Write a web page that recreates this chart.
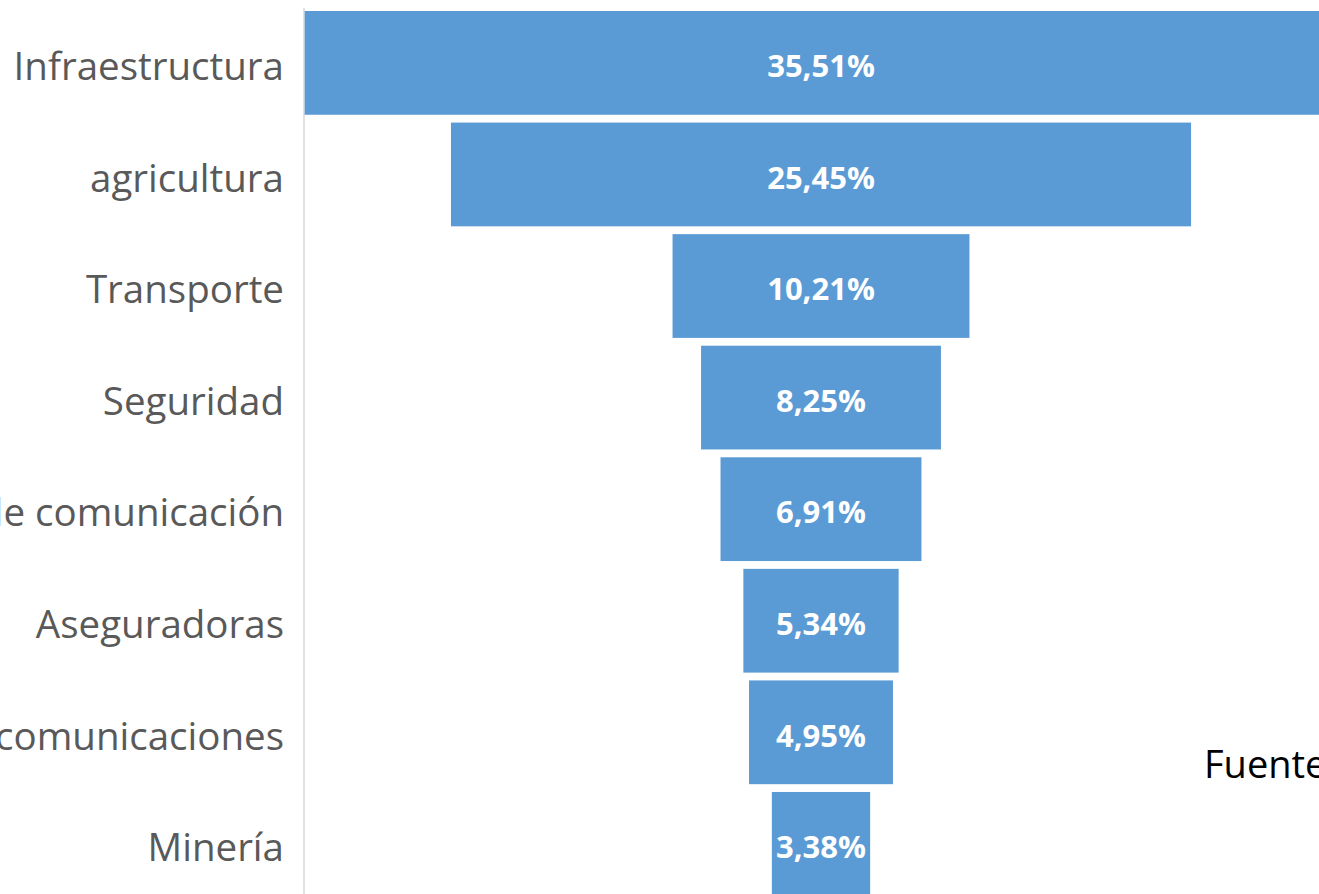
<!DOCTYPE html>
<html>
<head>
<meta charset="utf-8">
<script src="https://cdn.jsdelivr.net/npm/d3@7"></script>
<style>
  html, body { margin: 0; padding: 0; background: #fff; overflow: hidden; }
  svg { display: block; font-family: "Open Sans", "Noto Sans", sans-serif; }
</style>
</head>
<body>
<div class="chart"></div>
<script>
const width = 1319;
const height = 894;

// funnel data
const sectors = ['Infraestructura', 'agricultura', 'Transporte', 'Seguridad',
  'Medios de comunicación', 'Aseguradoras', 'Telecomunicaciones', 'Minería'];
const shares = [35.51, 25.45, 10.21, 8.25, 6.91, 5.34, 4.95, 3.38];
const sourceNote = 'Fuente: elaboración propia';

const centerX = 821;
const axisX = 304;
const step = 111.57;
const pad = 0.07;

const svg = d3
    .select('div.chart')
    .append('svg')
    .attr('width', width)
    .attr('height', height);

const y = d3
    .scaleBand()
    .domain(sectors)
    .range([11, 11 + step * (sectors.length - pad)])
    .paddingInner(pad)
    .paddingOuter(0);

const w = d3
    .scaleLinear()
    .domain([0, 1])
    .range([0, 29.08]);

const fmt = (v) => d3.format('.2f')(v).replace('.', ',') + '%';

svg.append('line')
    .attr('x1', axisX)
    .attr('x2', axisX)
    .attr('y1', 8)
    .attr('y2', height)
    .attr('stroke', '#d9d9d9')
    .attr('stroke-width', 1.5);

svg.selectAll('rect.bar')
    .data(sectors)
    .enter()
    .append('rect')
    .attr('class', 'bar')
    .attr('x', (d, i) => centerX - w(shares[i]) / 2)
    .attr('y', (d) => y(d))
    .attr('width', (d, i) => w(shares[i]))
    .attr('height', y.bandwidth())
    .attr('fill', '#5b9bd5');

svg.selectAll('text.value')
    .data(sectors)
    .enter()
    .append('text')
    .attr('class', 'value')
    .attr('x', centerX)
    .attr('y', (d) => y(d) + y.bandwidth() / 2 + 6)
    .attr('text-anchor', 'middle')
    .attr('dominant-baseline', 'middle')
    .attr('font-size', '31px')
    .attr('font-weight', 'bold')
    .attr('fill', '#fff')
    .text((d, i) => fmt(shares[i]));

svg.selectAll('text.label')
    .data(sectors)
    .enter()
    .append('text')
    .attr('class', 'label')
    .attr('x', 284)
    .attr('y', (d) => y(d) + y.bandwidth() / 2 + 7)
    .attr('text-anchor', 'end')
    .attr('dominant-baseline', 'middle')
    .attr('font-size', '38.5px')
    .attr('fill', '#595959')
    .text((d) => d);

svg.append('text')
    .attr('x', 1204)
    .attr('y', 778)
    .attr('font-size', '38px')
    .attr('fill', '#000')
    .text(sourceNote);
</script>
</body>
</html>
